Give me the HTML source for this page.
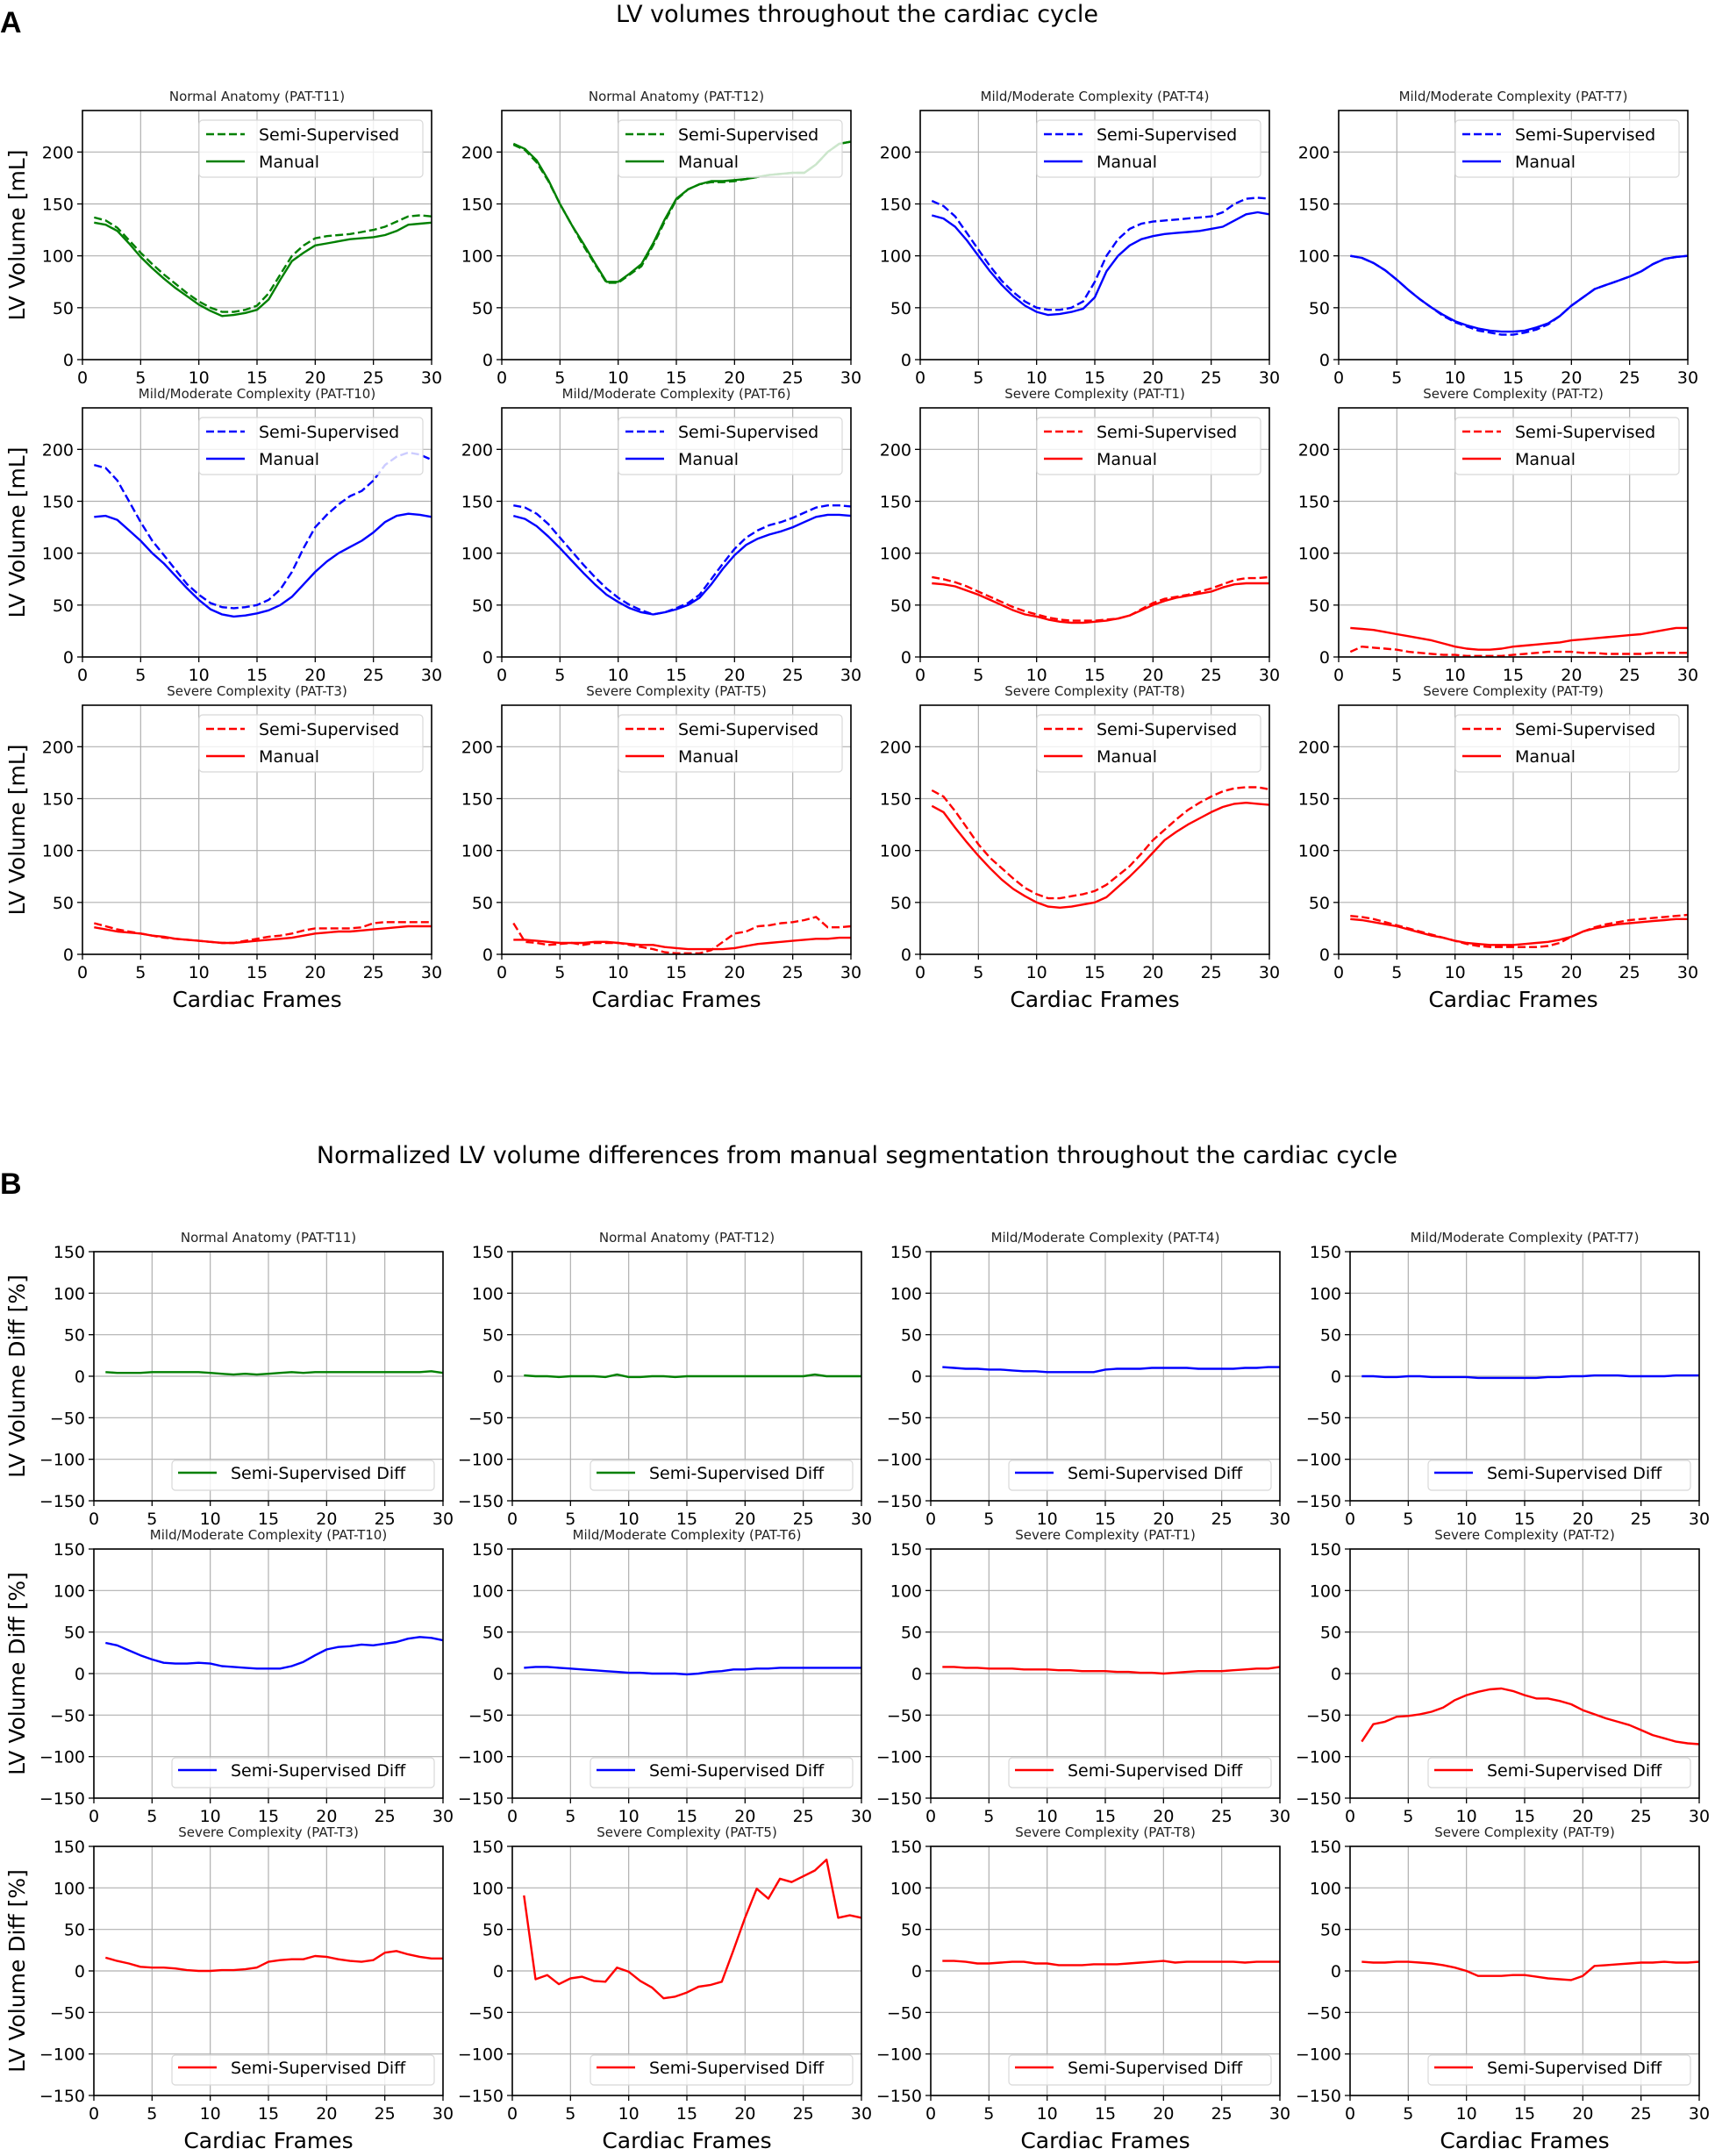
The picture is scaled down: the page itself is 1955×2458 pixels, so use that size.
<!DOCTYPE html>
<html><head><meta charset="utf-8">
<style>
html,body{margin:0;padding:0;background:#fff;}
svg{display:block;font-family:"DejaVu Sans","Liberation Sans",sans-serif;}
</style></head>
<body>
<svg id="fig" width="1955" height="2458" viewBox="0 0 1955 2458" xmlns="http://www.w3.org/2000/svg">
<rect width="1955" height="2458" fill="#fff"/>
<text x="0" y="37" font-size="34" font-weight="bold" font-family="Liberation Sans, sans-serif">A</text>
<text x="977" y="25" font-size="27" text-anchor="middle">LV volumes throughout the cardiac cycle</text>
<text x="0" y="1361" font-size="34" font-weight="bold" font-family="Liberation Sans, sans-serif">B</text>
<text x="977" y="1326" font-size="27" text-anchor="middle">Normalized LV volume differences from manual segmentation throughout the cardiac cycle</text>
</svg>
<script>
const frames = [1,2,3,4,5,6,7,8,9,10,11,12,13,14,15,16,17,18,19,20,21,22,23,24,25,26,27,28,29,30];
const xTicks = [0,5,10,15,20,25,30];
const volTicks = [0,50,100,150,200];
const diffTicks = [-150,-100,-50,0,50,100,150];
const titles = ["Normal Anatomy (PAT-T11)","Normal Anatomy (PAT-T12)","Mild/Moderate Complexity (PAT-T4)","Mild/Moderate Complexity (PAT-T7)","Mild/Moderate Complexity (PAT-T10)","Mild/Moderate Complexity (PAT-T6)","Severe Complexity (PAT-T1)","Severe Complexity (PAT-T2)","Severe Complexity (PAT-T3)","Severe Complexity (PAT-T5)","Severe Complexity (PAT-T8)","Severe Complexity (PAT-T9)"];
const colors = ["#008000","#008000","#0000ff","#0000ff","#0000ff","#0000ff","#ff0000","#ff0000","#ff0000","#ff0000","#ff0000","#ff0000"];

const semiT11 = [137,134,127,115,103,92,82,73,64,56,50,46,46,48,52,64,82,100,110,117,119,120,121,123,125,128,133,138,139,138];
const manT11 = [132,130,124,112,99,88,78,69,61,53,47,42,43,45,48,58,77,95,103,110,112,114,116,117,118,120,124,130,131,132];
const semiT12 = [207,202,190,172,150,130,110,92,74,74,82,90,110,133,154,164,169,171,171,172,174,176,178,179,180,180,188,200,208,210];
const manT12 = [208,203,192,173,150,130,112,93,75,75,83,92,112,135,155,164,169,172,172,173,174,176,178,179,180,180,188,200,208,210];
const semiT4 = [153,148,138,122,106,90,76,65,56,50,48,48,50,56,75,100,116,126,131,133,134,135,136,137,138,142,150,155,156,155];
const manT4 = [139,136,128,115,100,85,72,61,52,46,43,44,46,49,60,85,100,110,116,119,121,122,123,124,126,128,134,140,142,140];
const semiT7 = [100,98,93,86,77,67,58,50,42,36,32,28,26,24,24,26,29,34,42,52,60,68,72,76,80,85,92,97,99,100];
const manT7 = [100,98,93,86,77,67,58,50,43,37,33,30,28,27,27,28,31,35,42,52,60,68,72,76,80,85,92,97,99,100];
const semiT10 = [185,182,170,150,130,112,98,84,70,60,52,48,47,48,50,55,65,82,105,125,137,147,155,160,170,185,193,197,195,190];
const manT10 = [135,136,132,122,112,100,90,78,66,55,46,41,39,40,42,45,50,58,70,82,92,100,106,112,120,130,136,138,137,135];
const semiT6 = [146,144,138,128,115,102,89,77,66,57,50,45,41,43,47,52,60,75,90,104,115,122,127,130,134,139,144,146,146,145];
const manT6 = [136,133,126,116,105,93,81,70,60,53,47,43,41,43,46,50,57,70,85,98,108,114,118,121,125,130,135,137,137,136];
const semiT1 = [77,75,72,68,63,58,53,48,44,41,38,36,35,35,35,36,37,40,46,52,56,58,60,63,66,70,74,76,76,77];
const manT1 = [71,70,68,64,60,55,50,45,41,39,36,34,33,33,34,35,37,40,45,50,54,57,59,61,63,67,70,71,71,71];
const semiT2 = [5,10,9,8,7,5,4,3,2,2,1,1,1,1,2,3,4,5,5,5,4,4,3,3,3,3,4,4,4,4];
const manT2 = [28,27,26,24,22,20,18,16,13,10,8,7,7,8,10,11,12,13,14,16,17,18,19,20,21,22,24,26,28,28];
const semiT3 = [30,27,24,22,20,18,16,15,14,13,12,11,11,13,15,17,18,20,23,25,25,25,25,26,30,31,31,31,31,31];
const manT3 = [26,24,22,21,20,18,17,15,14,13,12,11,11,12,13,14,15,16,18,20,21,22,22,23,24,25,26,27,27,27];
const semiT5 = [30,12,11,9,10,11,9,11,11,11,9,7,5,2,1,1,1,4,12,20,22,27,28,30,31,33,36,26,26,27];
const manT5 = [14,14,13,12,11,11,11,12,12,11,10,9,9,7,6,5,5,5,5,6,8,10,11,12,13,14,15,15,16,16];
const semiT8 = [158,152,138,122,106,93,83,73,64,58,54,54,56,58,61,67,76,85,97,110,120,130,139,146,152,157,160,161,161,159];
const manT8 = [143,137,122,108,95,83,72,63,56,50,46,45,46,48,50,55,65,75,86,98,110,118,125,131,137,142,145,146,145,144];
const semiT9 = [37,36,34,31,28,25,22,19,16,13,10,8,7,7,7,7,7,8,11,17,22,26,29,31,33,34,35,36,37,38];
const manT9 = [34,33,31,29,27,24,21,18,16,13,11,10,9,9,9,10,11,12,14,17,22,25,27,29,30,31,32,33,34,34];

const diffT11 = [5,4,4,4,5,5,5,5,5,4,3,2,3,2,3,4,5,4,5,5,5,5,5,5,5,5,5,5,6,4];
const diffT12 = [1,0,0,-1,0,0,0,-1,2,-1,-1,0,0,-1,0,0,0,0,0,0,0,0,0,0,0,2,0,0,0,0];
const diffT4 = [11,10,9,9,8,8,7,6,6,5,5,5,5,5,8,9,9,9,10,10,10,10,9,9,9,9,10,10,11,11];
const diffT7 = [0,0,-1,-1,0,0,-1,-1,-1,-1,-2,-2,-2,-2,-2,-2,-1,-1,0,0,1,1,1,0,0,0,0,1,1,1];
const diffT10 = [37,34,28,22,17,13,12,12,13,12,9,8,7,6,6,6,9,14,22,29,32,33,35,34,36,38,42,44,43,40];
const diffT6 = [7,8,8,7,6,5,4,3,2,1,1,0,0,0,-1,0,2,3,5,5,6,6,7,7,7,7,7,7,7,7];
const diffT1 = [8,8,7,7,6,6,6,5,5,5,4,4,3,3,3,2,2,1,1,0,1,2,3,3,3,4,5,6,6,8];
const diffT2 = [-82,-61,-58,-52,-51,-49,-46,-41,-32,-26,-22,-19,-18,-21,-26,-30,-30,-33,-37,-44,-49,-54,-58,-62,-68,-74,-78,-82,-84,-85];
const diffT3 = [16,12,9,5,4,4,3,1,0,0,1,1,2,4,11,13,14,14,18,17,14,12,11,13,22,24,20,17,15,15];
const diffT5 = [91,-10,-5,-16,-9,-7,-12,-13,4,-1,-12,-20,-33,-31,-26,-19,-17,-13,25,64,99,87,111,107,114,121,134,64,67,64];
const diffT8 = [12,12,11,9,9,10,11,11,9,9,7,7,7,8,8,8,9,10,11,12,10,11,11,11,11,11,10,11,11,11];
const diffT9 = [11,10,10,11,11,10,9,7,4,0,-6,-6,-6,-5,-5,-7,-9,-10,-11,-6,6,7,8,9,10,10,11,10,10,11];

const semiSeries = [semiT11,semiT12,semiT4,semiT7,semiT10,semiT6,semiT1,semiT2,semiT3,semiT5,semiT8,semiT9];
const manSeries = [manT11,manT12,manT4,manT7,manT10,manT6,manT1,manT2,manT3,manT5,manT8,manT9];
const diffSeries = [diffT11,diffT12,diffT4,diffT7,diffT10,diffT6,diffT1,diffT2,diffT3,diffT5,diffT8,diffT9];

const NS = "http://www.w3.org/2000/svg";
const svg = document.getElementById('fig');
function mk(tag, attrs, parent){
  const e = document.createElementNS(NS, tag);
  for (const k in attrs) e.setAttribute(k, attrs[k]);
  (parent||svg).appendChild(e);
  return e;
}
const W = 398, H = 284;
const aLefts = [94,572,1049,1526], aTops = [126,465,804];
const bLefts = [107,584,1061,1539], bTops = [1427,1766,2105];

function drawPanel(i, left, top, ymin, ymax, yTicks, isDiff){
  const row = Math.floor(i/4), col = i%4;
  const g = mk('g', {});
  
  
  const xs = v => left + v/30*W;
  const ys = v => top + H - (v-ymin)/(ymax-ymin)*H;
  // grid
  xTicks.forEach(t => { const l = mk('line', {x1:xs(t),x2:xs(t),y1:top,y2:top+H,stroke:'#b0b0b0','stroke-width':1.2}, g);
      });
  yTicks.forEach(t => { const l = mk('line', {x1:left,x2:left+W,y1:ys(t),y2:ys(t),stroke:'#b0b0b0','stroke-width':1.2}, g);
      });
  const col_ = colors[i];
  const pts = arr => arr.map((v,k)=> xs(frames[k]).toFixed(1)+','+ys(v).toFixed(1)).join(' ');
  if (!isDiff){
    const m = mk('polyline', {points:pts(manSeries[i]), fill:'none', stroke:col_, 'stroke-width':2.4, 'stroke-linejoin':'round'}, g);
     
    const s = mk('polyline', {points:pts(semiSeries[i]), fill:'none', stroke:col_, 'stroke-width':2.4, 'stroke-dasharray':'9,4'}, g);
     
  } else {
    const d = mk('polyline', {points:pts(diffSeries[i]), fill:'none', stroke:col_, 'stroke-width':2.4, 'stroke-linejoin':'round'}, g);
     
  }
  // spines
  const fr = mk('rect', {x:left,y:top,width:W,height:H,fill:'none',stroke:'#000','stroke-width':1.6}, g);
   
  // ticks
  xTicks.forEach(t => {
    mk('line', {x1:xs(t),x2:xs(t),y1:top+H,y2:top+H+6,stroke:'#000','stroke-width':1.3}, g);
    const tx = mk('text', {x:xs(t), y:top+H+27, 'font-size':19, 'text-anchor':'middle'}, g);
    tx.textContent = t;
     
  });
  yTicks.forEach(t => {
    mk('line', {x1:left-6,x2:left,y1:ys(t),y2:ys(t),stroke:'#000','stroke-width':1.3}, g);
    const ty = mk('text', {x:left-10, y:ys(t)+7, 'font-size':19, 'text-anchor':'end'}, g);
    ty.textContent = (t<0 ? '\u2212'+(-t) : t);
     
  });
  // title
  const ti = mk('text', {x:left+W/2, y:top-11, 'font-size':15, 'text-anchor':'middle', fill:'#222'}, g);
  ti.textContent = titles[i];
   
  // legend
  const lg = mk('g', {}, g);
   
  if (!isDiff){
    const bx = left+W-265, by = top+11;
    mk('rect', {x:bx,y:by,width:255,height:65,rx:4,fill:'#fff','fill-opacity':0.8,stroke:'#d8d8d8','stroke-width':1.2}, lg);
    mk('line', {x1:bx+8,x2:bx+52,y1:by+16,y2:by+16,stroke:col_,'stroke-width':2.4,'stroke-dasharray':'9,4'}, lg);
    mk('line', {x1:bx+8,x2:bx+52,y1:by+47,y2:by+47,stroke:col_,'stroke-width':2.4}, lg);
    const t1 = mk('text', {x:bx+68, y:by+23, 'font-size':19}, lg); t1.textContent = 'Semi-Supervised';
     
    const t2 = mk('text', {x:bx+68, y:by+54, 'font-size':19}, lg); t2.textContent = 'Manual';
     
  } else {
    const bx = left+W-309, by = top+H-46;
    mk('rect', {x:bx,y:by,width:299,height:34,rx:4,fill:'#fff','fill-opacity':0.8,stroke:'#d8d8d8','stroke-width':1.2}, lg);
    mk('line', {x1:bx+7,x2:bx+51,y1:by+14,y2:by+14,stroke:col_,'stroke-width':2.4}, lg);
    const t1 = mk('text', {x:bx+67, y:by+21, 'font-size':19}, lg); t1.textContent = 'Semi-Supervised Diff';
     
  }
  if (col===0){
    const cy = top+H/2;
    const yl = mk('text', {x:0,y:0,'font-size':25,'text-anchor':'middle',transform:`translate(28,${cy}) rotate(-90)`}, g);
    yl.textContent = isDiff ? 'LV Volume Diff [%]' : 'LV Volume [mL]';
     
  }
  if (row===2){
    const xl = mk('text', {x:left+W/2, y:top+H+60, 'font-size':25, 'text-anchor':'middle'}, g);
    xl.textContent = 'Cardiac Frames';
     
  }
}
for (let i=0;i<12;i++){
  const r = Math.floor(i/4), c = i%4;
  drawPanel(i, aLefts[c], aTops[r], 0, 240, volTicks, false);
  drawPanel(i, bLefts[c], bTops[r], -150, 150, diffTicks, true);
}
</script>
</body></html>
